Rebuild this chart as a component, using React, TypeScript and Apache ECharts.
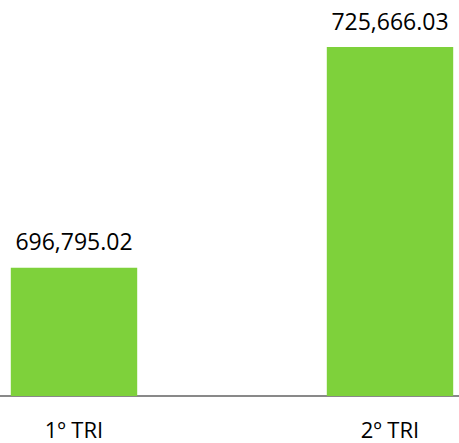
import React, { useEffect, useRef } from "react";
import * as echarts from "echarts";

const categories = ["1º TRI", "2º TRI"];
const values = [696795.02, 725666.03];
const yMin = 680000;
const yMax = 730000;

const fmt = (v: number) =>
  v.toLocaleString("en-US", { minimumFractionDigits: 2, maximumFractionDigits: 2 });

export default function App() {
  const ref = useRef<HTMLDivElement>(null);
  useEffect(() => {
    if (!ref.current) return;
    const chart = echarts.init(ref.current, undefined, { renderer: "svg" });
    chart.setOption({
      animation: false,
      grid: { left: 0, right: 0, top: 14, bottom: 47, containLabel: false },
      xAxis: {
        type: "category",
        data: categories,
        axisLine: { show: true, lineStyle: { color: "#898989", width: 2 } },
        axisTick: { show: false },
        axisLabel: {
          color: "#000000",
          fontFamily: "Open Sans",
          fontSize: 22,
          margin: 22,
        },
      },
      yAxis: {
        type: "value",
        min: yMin,
        max: yMax,
        show: false,
        splitLine: { show: false },
      },
      series: [
        {
          type: "bar",
          data: values,
          barWidth: "40%",
          itemStyle: { color: "#7ED13B" },
          label: {
            show: true,
            position: "top",
            distance: 15,
            color: "#000000",
            fontFamily: "Open Sans",
            fontSize: 23,
            formatter: (p: any) => fmt(p.value),
          },
        },
      ],
    });
    return () => chart.dispose();
  }, []);
  return (
    <div
      style={{
        position: "fixed",
        left: 0,
        top: 0,
        width: 459,
        height: 443,
        overflow: "hidden",
        background: "#ffffff",
      }}
    >
      <div
        ref={ref}
        style={{ position: "absolute", left: -84, top: 0, width: 632, height: 443 }}
      />
    </div>
  );
}
